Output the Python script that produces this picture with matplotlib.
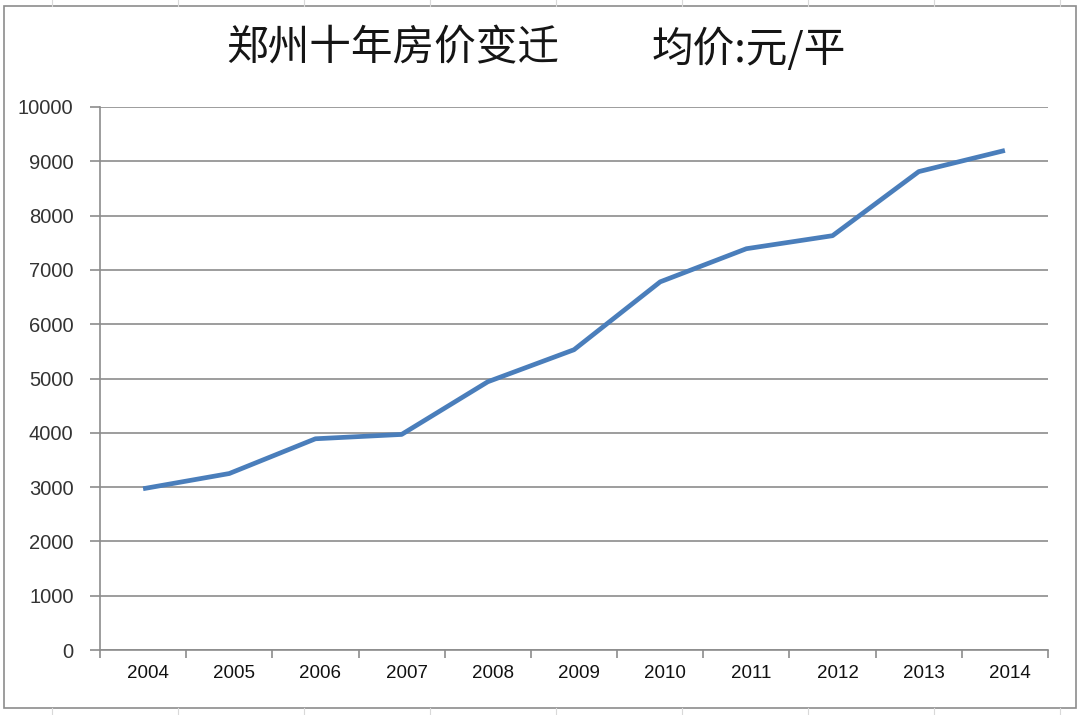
import matplotlib
matplotlib.use("Agg")
import matplotlib.pyplot as plt
import matplotlib.transforms as mtransforms
from matplotlib.patches import Rectangle
from matplotlib.lines import Line2D

# data (yuan per square metre)
years = ["2004", "2005", "2006", "2007", "2008", "2009",
         "2010", "2011", "2012", "2013", "2014"]
prices = [2970, 3250, 3890, 3970, 4940, 5530, 6780, 7390, 7630, 8810, 9200]
y_ticks = [0, 1000, 2000, 3000, 4000, 5000, 6000, 7000, 8000, 9000, 10000]

title_left = "郑州十年房价变迁"
title_right = "均价:元/平"

plt.rcParams['font.family'] = ['Noto Sans CJK SC', 'DejaVu Sans']

fig = plt.figure(figsize=(10.8, 7.15), dpi=100)
W, H = 1080, 715

# faint spreadsheet cell lines around the chart object
for x in range(52, W, 126):
    fig.add_artist(Line2D([x / W, x / W], [1 - 6 / H, 1], color="#d9d9d9", lw=0.8))
    fig.add_artist(Line2D([x / W, x / W], [0, 1 - 708 / H], color="#d9d9d9", lw=0.8))

# chart frame
fig.add_artist(Rectangle((4 / W, 1 - 708 / H), (1076 - 4) / W, (708 - 6) / H,
                         transform=fig.transFigure, facecolor="white",
                         edgecolor="#8c8c8c", lw=1.2, zorder=0))

ax = fig.add_axes([100 / W, 1 - 650 / H, (1048 - 100) / W, (650 - 107) / H])
ax.set_facecolor("none")

xs = list(range(len(years)))
ax.plot(xs, prices, color="#4a7ebb", lw=3.4, solid_joinstyle="round",
        solid_capstyle="butt", zorder=3)

ax.set_xlim(-0.5, len(years) - 0.5)
ax.set_ylim(0, 10000)
ax.set_yticks(y_ticks)
ax.set_yticklabels([str(v) for v in y_ticks], fontsize=14.5, color="#333333",
                   family=['Liberation Sans', 'DejaVu Sans'])
ax.grid(axis="y", color="#8c8c8c", lw=1.2)
ax.set_axisbelow(True)

# category labels between boundary ticks
ax.set_xticks(xs)
ax.set_xticklabels(years, fontsize=13.5, color="#111111",
                   family=['Liberation Sans', 'DejaVu Sans'])
ax.set_xticks([i - 0.5 for i in range(len(years) + 1)], minor=True)
ax.tick_params(axis="x", which="major", length=0, pad=11)
ax.tick_params(axis="x", which="minor", length=6, width=1.2, color="#8c8c8c",
               direction="out")
ax.tick_params(axis="y", length=7, width=1.2, color="#8c8c8c", pad=12)
offset = mtransforms.ScaledTranslation(5 / 100, 0, fig.dpi_scale_trans)
for lab in ax.get_xticklabels():
    lab.set_transform(lab.get_transform() + offset)

for side in ["top", "right"]:
    ax.spines[side].set_visible(False)
for side in ["left", "bottom"]:
    ax.spines[side].set_color("#8c8c8c")
    ax.spines[side].set_linewidth(1.2)

fig.text(393 / W, 1 - 49 / H, title_left, fontsize=30, fontweight="medium",
         ha="center", va="center", color="#151515")
fig.text(749 / W, 1 - 49 / H, title_right, fontsize=30, fontweight="medium",
         ha="center", va="center", color="#151515")

fig.savefig("out.png", dpi=100)
